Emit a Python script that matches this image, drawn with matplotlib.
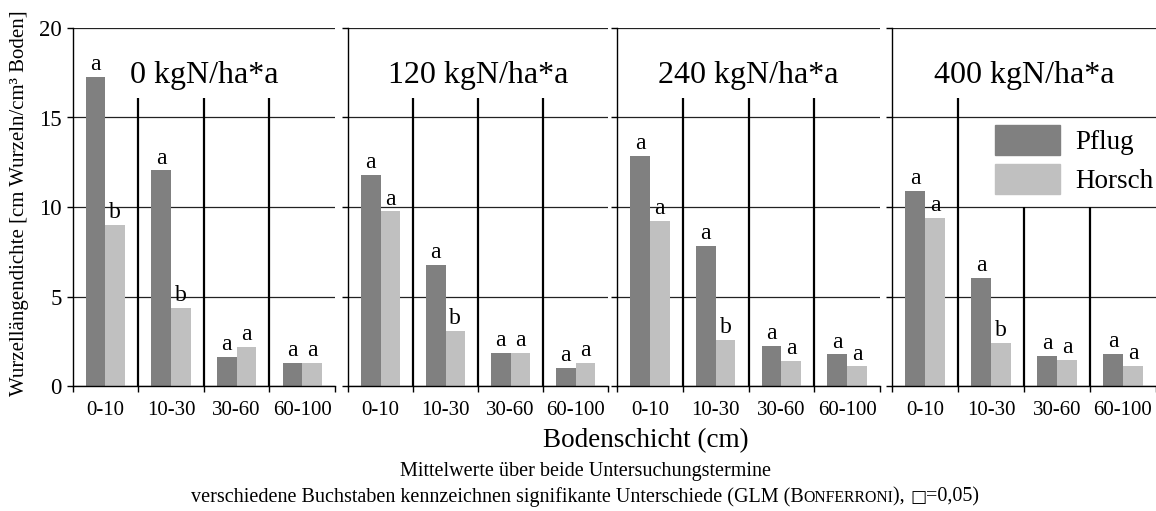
import matplotlib
matplotlib.use('Agg')
import matplotlib.pyplot as plt
import numpy as np
from matplotlib.offsetbox import TextArea, HPacker, AnchoredOffsetbox
from matplotlib.patches import Patch

plt.rcParams['font.family'] = ['Liberation Serif', 'DejaVu Sans']

# ---- data ----
layers = ['0-10', '10-30', '30-60', '60-100']
fert_levels = ['0 kgN/ha*a', '120 kgN/ha*a', '240 kgN/ha*a', '400 kgN/ha*a']
series_names = ['Pflug', 'Horsch']
pflug = [[17.25, 12.05, 1.64, 1.28],
         [11.80, 6.78, 1.83, 1.03],
         [12.86, 7.84, 2.26, 1.76],
         [10.90, 6.05, 1.70, 1.81]]
horsch = [[8.98, 4.37, 2.19, 1.28],
          [9.75, 3.10, 1.83, 1.27],
          [9.23, 2.59, 1.42, 1.09],
          [9.40, 2.43, 1.48, 1.14]]
sig_pflug = [['a', 'a', 'a', 'a'],
             ['a', 'a', 'a', 'a'],
             ['a', 'a', 'a', 'a'],
             ['a', 'a', 'a', 'a']]
sig_horsch = [['b', 'b', 'a', 'a'],
              ['a', 'b', 'a', 'a'],
              ['a', 'b', 'a', 'a'],
              ['a', 'b', 'a', 'a']]
yticks = [0, 5, 10, 15, 20]

# ---- style / layout ----
W, H = 1156, 511
fig = plt.figure(figsize=(W / 100, H / 100), dpi=100)
c_pflug = '#808080'
c_horsch = '#c0c0c0'
panel_px = [(72.7, 335), (348, 608), (617, 880), (892, 1156)]
y_top_px, y_bot_px = 28, 386
bw = 0.3

axes = []
for k, (l, r) in enumerate(panel_px):
    ax = fig.add_axes([l / W, (H - y_bot_px) / H, (r - l) / W, (y_bot_px - y_top_px) / H])
    axes.append(ax)
    x = np.arange(len(layers)) + 0.5
    ax.bar(x - bw / 2, pflug[k], bw, color=c_pflug, zorder=2, label=series_names[0])
    ax.bar(x + bw / 2, horsch[k], bw, color=c_horsch, zorder=2, label=series_names[1])
    for i in range(len(layers)):
        ax.text(x[i] - bw / 2, pflug[k][i] + 0.38, sig_pflug[k][i], ha='center',
                va='baseline', fontsize=17)
        ax.text(x[i] + bw / 2, horsch[k][i] + 0.38, sig_horsch[k][i], ha='center',
                va='baseline', fontsize=17)
    ax.set_xlim(0, len(layers))
    ax.set_ylim(0, 20)
    ax.set_yticks(yticks)
    ax.yaxis.grid(True, color='#222222', lw=0.9, zorder=0)
    ax.set_axisbelow(True)
    for s in ['top', 'right']:
        ax.spines[s].set_visible(False)
    for s in ['left', 'bottom']:
        ax.spines[s].set_color('black')
        ax.spines[s].set_linewidth(1.0)
    ax.set_xticks(np.arange(len(layers) + 1))
    ax.set_xticklabels([])
    ax.set_xticks(x, minor=True)
    ax.set_xticklabels(layers, minor=True, fontsize=15)
    ax.tick_params(axis='x', which='major', length=4, width=1, direction='out')
    ax.tick_params(axis='x', which='minor', length=0, pad=11)
    ax.tick_params(axis='y', length=4, width=1, direction='out', pad=4, labelsize=16.5)
    if k > 0:
        ax.set_yticklabels([])
    # separators
    tops = [16.1, 16.1, 16.1] if k < 3 else [16.1, 10.0, 10.0]
    for j, t in enumerate(tops):
        ax.vlines(j + 1, 0, t, color='black', lw=1.6, zorder=3)
    ax.text(len(layers) / 2, 16.9, fert_levels[k], ha='center', va='baseline', fontsize=23)

# legend in the last panel
ax = axes[3]
handles = [Patch(color=c_pflug), Patch(color=c_horsch)]
leg = ax.legend(handles, series_names, loc='upper left',
                bbox_to_anchor=((995 - 892) / (1156 - 892), (386 - 125) / (386 - 28)),
                frameon=False, fontsize=19.5, handlelength=2.4, handleheight=1.35,
                handletextpad=0.55, labelspacing=0.3, borderpad=0, borderaxespad=0)

# axis labels
fig.text(20 / W, (H - 203) / H, 'Wurzellängendichte [cm Wurzeln/cm³ Boden]',
         rotation=90, ha='center', va='center', fontsize=15)
fig.text(646 / W, (H - 447) / H, 'Bodenschicht (cm)', ha='center', va='baseline',
         fontsize=19.5)

# footnote
fs = 14.5
fig.text(585 / W, (H - 476) / H, 'Mittelwerte über beide Untersuchungstermine',
         ha='center', va='baseline', fontsize=fs)
parts = [TextArea('verschiedene Buchstaben kennzeichnen signifikante Unterschiede (GLM (B',
                  textprops=dict(fontsize=fs)),
         TextArea('ONFERRONI', textprops=dict(fontsize=fs * 0.78)),
         TextArea('), ', textprops=dict(fontsize=fs)),
         TextArea('□', textprops=dict(fontsize=fs * 0.85, family=['DejaVu Sans'])),
         TextArea('=0,05)', textprops=dict(fontsize=fs))]
pack = HPacker(children=parts, align='baseline', pad=0, sep=0)
ab = AnchoredOffsetbox(loc='center', child=pack, frameon=False, pad=0, borderpad=0,
                       bbox_to_anchor=(585 / W, (H - 497) / H),
                       bbox_transform=fig.transFigure)
fig.add_artist(ab)

fig.savefig('out.png', dpi=100)
